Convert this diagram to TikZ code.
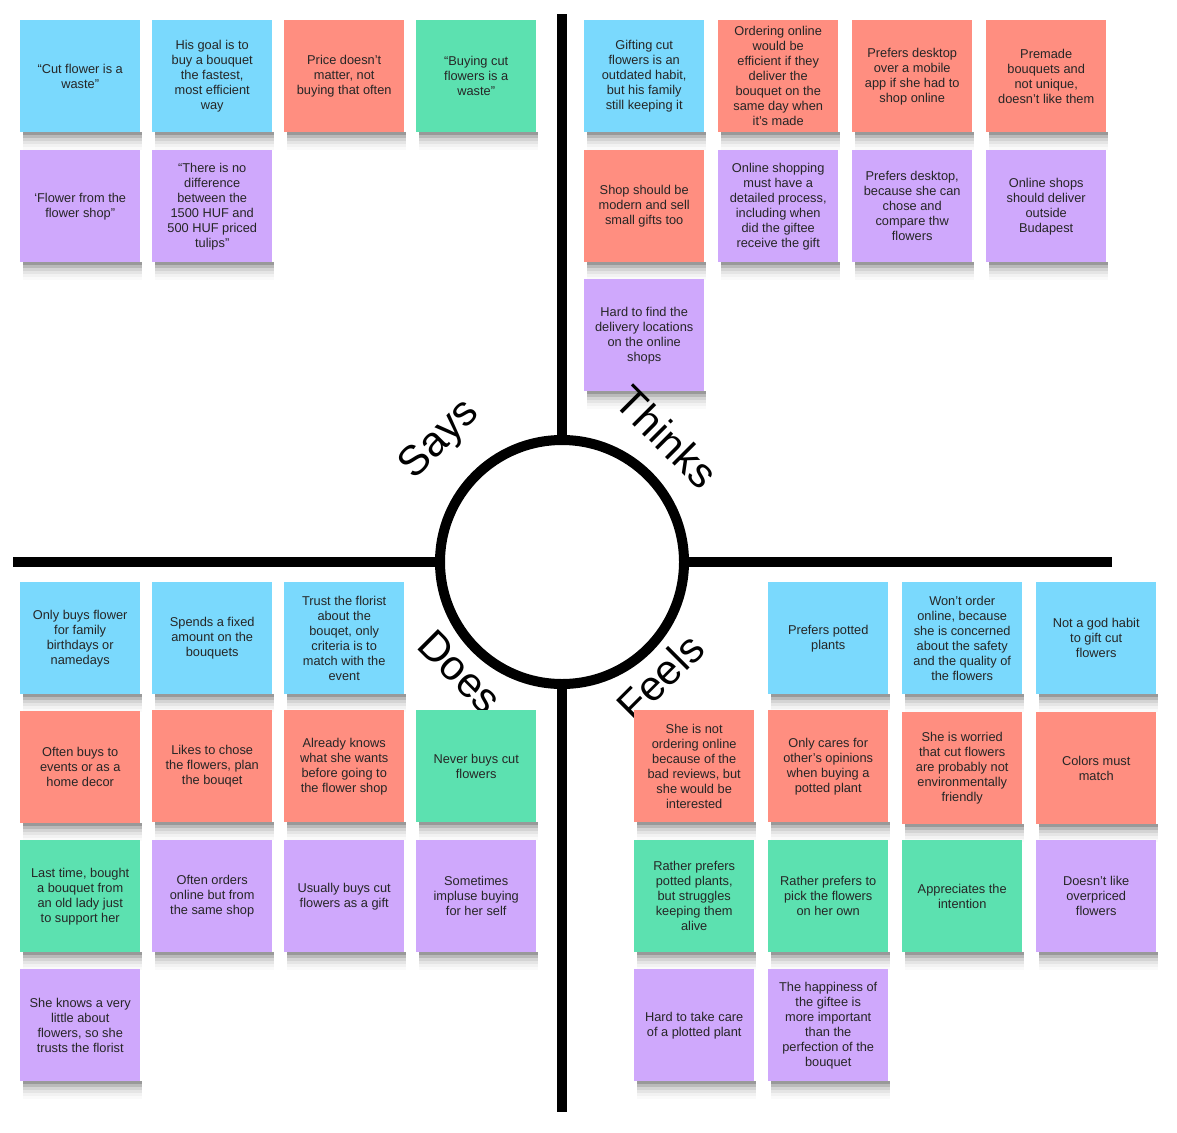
\documentclass[tikz,border=0pt]{standalone}
\usepackage{fontspec}
\setmainfont{Liberation Sans}
\usepackage{xcolor}

\definecolor{noteblue}{HTML}{7AD9FD}
\definecolor{notered}{HTML}{FF8E80}
\definecolor{notegreen}{HTML}{5CE1B0}
\definecolor{notepurple}{HTML}{CFA8FC}

% sticky note: name, x, y (top left), colour, text
\newcommand{\sticky}[5]{%
  \node[note, fill=#4] (#1) at (#2,#3) {#5};
  \foreach \b/\g in {18/2, 15/5, 12/10, 9/17, 6/27, 3/40}
    \fill[black!\g] ([xshift=3pt]#1.south west) rectangle ([xshift=2pt, yshift=-\b pt]#1.south east);
}

\begin{document}
\begin{tikzpicture}[x=1pt, y=-1pt,
    note/.style={anchor=north west, minimum width=120pt, minimum height=112pt, inner sep=0pt,
      align=center, text=black!85, font=\fontsize{12.8}{15}\selectfont},
    quadline/.style={line width=10pt},
    quadlabel/.style={font=\fontsize{42}{44}\selectfont, inner sep=0pt}]
      \useasboundingbox (0,0) rectangle (1177,1132);
      % \draw[help lines] (0,0) grid[step=50] (1177,1132);

      \node[circle, draw, line width=10pt, minimum size=244pt, inner sep=0pt, outer sep=0pt] (mid) at (562,562) {};
      \coordinate (top) at (562,14);
      \coordinate (bottom) at (562,1112);
      \coordinate (left) at (13,562);
      \coordinate (right) at (1112,562);

      \draw[quadline] (mid.north) -- (top);
      \draw[quadline] (mid.south) -- (bottom);
      \draw[quadline] (mid.west) -- (left);
      \draw[quadline] (mid.east) -- (right);

      \node[quadlabel, rotate=45] (says) at (440,440) {Says};
      \node[quadlabel, rotate=-45] (does) at (460,672) {Does};
      \node[quadlabel, rotate=45] (feels) at (660,677) {Feels};

      % Says
      \sticky{sa1}{20}{20}{noteblue}{“Cut flower is a\\waste”}
      \sticky{sa2}{152}{20}{noteblue}{His goal is to\\buy a bouquet\\the fastest,\\most efficient\\way}
      \sticky{sa3}{284}{20}{notered}{Price doesn’t\\matter, not\\buying that often}
      \sticky{sa4}{416}{20}{notegreen}{“Buying cut\\flowers is a\\waste”}
      \sticky{sa5}{20}{150}{notepurple}{‘Flower from the\\flower shop”}
      \sticky{sa6}{152}{150}{notepurple}{“There is no\\difference\\between the\\1500 HUF and\\500 HUF priced\\tulips”}

      % Thinks
      \sticky{th1}{584}{20}{noteblue}{Gifting cut\\flowers is an\\outdated habit,\\but his family\\still keeping it}
      \sticky{th2}{718}{20}{notered}{Ordering online\\would be\\efficient if they\\deliver the\\bouquet on the\\same day when\\it’s made}
      \sticky{th3}{852}{20}{notered}{Prefers desktop\\over a mobile\\app if she had to\\shop online}
      \sticky{th4}{986}{20}{notered}{Premade\\bouquets and\\not unique,\\doesn’t like them}
      \sticky{th5}{584}{150}{notered}{Shop should be\\modern and sell\\small gifts too}
      \sticky{th6}{718}{150}{notepurple}{Online shopping\\must have a\\detailed process,\\including when\\did the giftee\\receive the gift}
      \sticky{th7}{852}{150}{notepurple}{Prefers desktop,\\because she can\\chose and\\compare thw\\flowers}
      \sticky{th8}{986}{150}{notepurple}{Online shops\\should deliver\\outside\\Budapest}
      \sticky{th9}{584}{279}{notepurple}{Hard to find the\\delivery locations\\on the online\\shops}

      % Does
      \sticky{do1}{20}{582}{noteblue}{Only buys flower\\for family\\birthdays or\\namedays}
      \sticky{do2}{152}{582}{noteblue}{Spends a fixed\\amount on the\\bouquets}
      \sticky{do3}{284}{582}{noteblue}{Trust the florist\\about the\\bouqet, only\\criteria is to\\match with the\\event}
      \sticky{do4}{20}{711}{notered}{Often buys to\\events or as a\\home decor}
      \sticky{do5}{152}{710}{notered}{Likes to chose\\the flowers, plan\\the bouqet}
      \sticky{do6}{284}{710}{notered}{Already knows\\what she wants\\before going to\\the flower shop}
      \sticky{do7}{416}{710}{notegreen}{Never buys cut\\flowers}
      \sticky{do8}{20}{840}{notegreen}{Last time, bought\\a bouquet from\\an old lady just\\to support her}
      \sticky{do9}{152}{840}{notepurple}{Often orders\\online but from\\the same shop}
      \sticky{do10}{284}{840}{notepurple}{Usually buys cut\\flowers as a gift}
      \sticky{do11}{416}{840}{notepurple}{Sometimes\\impluse buying\\for her self}
      \sticky{do12}{20}{969}{notepurple}{She knows a very\\little about\\flowers, so she\\trusts the florist}

      % Feels
      \sticky{fe1}{768}{582}{noteblue}{Prefers potted\\plants}
      \sticky{fe2}{902}{582}{noteblue}{Won’t order\\online, because\\she is concerned\\about the safety\\and the quality of\\the flowers}
      \sticky{fe3}{1036}{582}{noteblue}{Not a god habit\\to gift cut\\flowers}
      \sticky{fe4}{634}{710}{notered}{She is not\\ordering online\\because of the\\bad reviews, but\\she would be\\interested}
      \sticky{fe5}{768}{710}{notered}{Only cares for\\other’s opinions\\when buying a\\potted plant}
      \sticky{fe6}{902}{712}{notered}{She is worried\\that cut flowers\\are probably not\\environmentally\\friendly}
      \sticky{fe7}{1036}{712}{notered}{Colors must\\match}
      \sticky{fe8}{634}{840}{notegreen}{Rather prefers\\potted plants,\\but struggles\\keeping them\\alive}
      \sticky{fe9}{768}{840}{notegreen}{Rather prefers to\\pick the flowers\\on her own}
      \sticky{fe10}{902}{840}{notegreen}{Appreciates the\\intention}
      \sticky{fe11}{1036}{840}{notepurple}{Doesn’t like\\overpriced\\flowers}
      \sticky{fe12}{634}{969}{notepurple}{Hard to take care\\of a plotted plant}
      \sticky{fe13}{768}{969}{notepurple}{The happiness of\\the giftee is\\more important\\than the\\perfection of the\\bouquet}

      % over the shadow of th9
      \node[quadlabel, rotate=-45] (thinks) at (667,437) {Thinks};
\end{tikzpicture}
\end{document}
